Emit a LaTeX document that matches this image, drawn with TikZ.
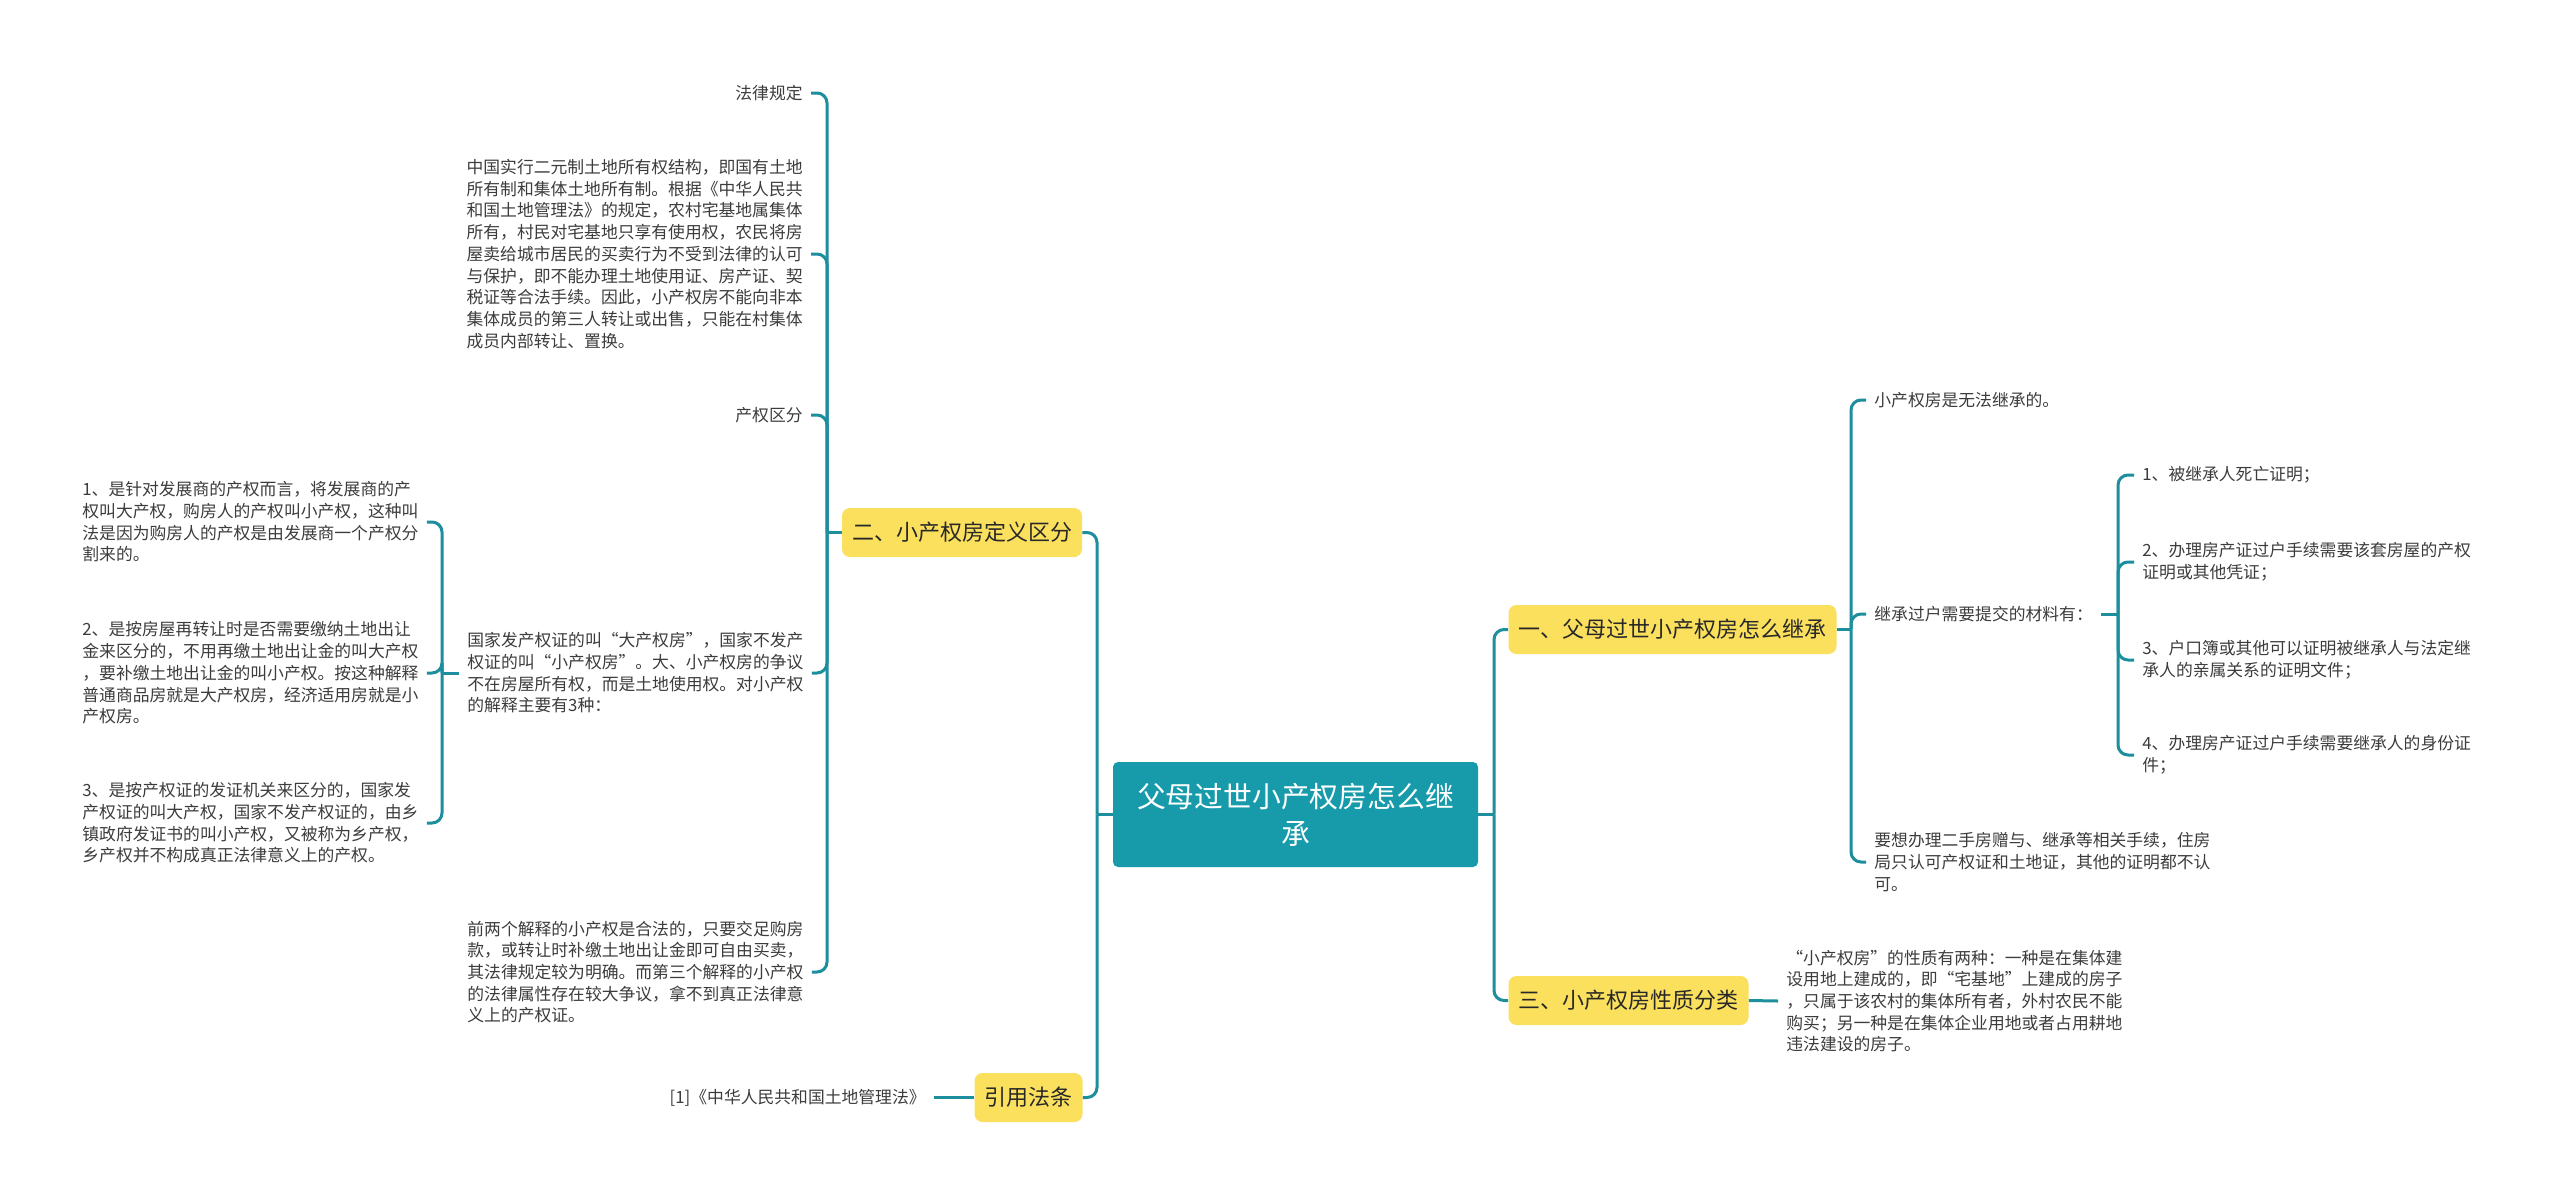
\documentclass[tikz,border=0pt]{standalone}
\usepackage{fontspec}
\setmainfont{Noto Sans CJK SC}

\begin{document}
\begin{tikzpicture}[x=0.5pt, y=-0.5pt,
    link/.style={draw=linkteal, line width=1.5pt, rounded corners=5pt},
    rootbox/.style={fill=rootteal, text=white, rounded corners=2.5pt,
        minimum width=182.5pt, minimum height=52.5pt, align=center,
        font=\fontsize{14.4}{18.5}\selectfont},
    topicbox/.style={fill=topicyellow, text=textdark, rounded corners=4pt,
        minimum height=24.5pt, inner xsep=5pt, font=\fontsize{11}{13}\selectfont},
    leaf/.style={text=textgray, inner xsep=4pt, inner ysep=0pt, align=left,
        font=\fontsize{8.4}{10.85}\selectfont}]

    % --- Definitions ---
    \definecolor{linkteal}{RGB}{28, 142, 158}
    \definecolor{rootteal}{RGB}{23, 155, 171}
    \definecolor{topicyellow}{RGB}{251, 224, 94}
    \definecolor{textdark}{RGB}{40, 40, 40}
    \definecolor{textgray}{RGB}{60, 60, 60}

    \path[use as bounding box, fill=white] (0,0) rectangle (2560,1195);

    % --- Root and topics ---
    \node[rootbox] (root) at (1295.5,814.5) {父母过世小产权房怎么继\\承};
    \node[topicbox, minimum width=162.5pt] (b1) at (1672.5,629.5) {一、父母过世小产权房怎么继承};
    \node[topicbox, minimum width=119pt] (b2) at (962,532.5) {二、小产权房定义区分};
    \node[topicbox, minimum width=118.5pt] (b3) at (1628.5,1000.5) {三、小产权房性质分类};
    \node[topicbox, minimum width=52.5pt] (b4) at (1028.5,1097.5) {引用法条};

    % --- Left side: definitions ---
    \node[leaf, anchor=east] (law) at (811,93) {法律规定};
    \node[leaf, anchor=east] (p1) at (811,254) {中国实行二元制土地所有权结构，即国有土地\\所有制和集体土地所有制。根据《中华人民共\\和国土地管理法》的规定，农村宅基地属集体\\所有，村民对宅基地只享有使用权，农民将房\\屋卖给城市居民的买卖行为不受到法律的认可\\与保护，即不能办理土地使用证、房产证、契\\税证等合法手续。因此，小产权房不能向非本\\集体成员的第三人转让或出售，只能在村集体\\成员内部转让、置换。};
    \node[leaf, anchor=east] (term) at (811,415) {产权区分};
    \node[leaf, anchor=west] (p2) at (459,673) {国家发产权证的叫“大产权房”，国家不发产\\权证的叫“小产权房”。大、小产权房的争议\\不在房屋所有权，而是土地使用权。对小产权\\的解释主要有3种：};
    \node[leaf, anchor=west] (p3) at (459,972) {前两个解释的小产权是合法的，只要交足购房\\款，或转让时补缴土地出让金即可自由买卖，\\其法律规定较为明确。而第三个解释的小产权\\的法律属性存在较大争议，拿不到真正法律意\\义上的产权证。};

    \node[leaf, anchor=west] (k1) at (74,522) {1、是针对发展商的产权而言，将发展商的产\\权叫大产权，购房人的产权叫小产权，这种叫\\法是因为购房人的产权是由发展商一个产权分\\割来的。};
    \node[leaf, anchor=west] (k2) at (74,673) {2、是按房屋再转让时是否需要缴纳土地出让\\金来区分的，不用再缴土地出让金的叫大产权\\，要补缴土地出让金的叫小产权。按这种解释\\普通商品房就是大产权房，经济适用房就是小\\产权房。};
    \node[leaf, anchor=west] (k3) at (74,823) {3、是按产权证的发证机关来区分的，国家发\\产权证的叫大产权，国家不发产权证的，由乡\\镇政府发证书的叫小产权，又被称为乡产权，\\乡产权并不构成真正法律意义上的产权。};

    \node[leaf, anchor=east] (ref) at (934,1097.5) {[1]《中华人民共和国土地管理法》};

    % --- Right side: inheritance ---
    \node[leaf, anchor=west] (r1) at (1866,400) {小产权房是无法继承的。};
    \node[leaf, anchor=west] (r2) at (1866,614) {继承过户需要提交的材料有：};
    \node[leaf, anchor=west] (r3) at (1866,862) {要想办理二手房赠与、继承等相关手续，住房\\局只认可产权证和土地证，其他的证明都不认\\可。};

    \node[leaf, anchor=west] (s1) at (2134,475) {1、被继承人死亡证明；};
    \node[leaf, anchor=west] (s2) at (2134,562) {2、办理房产证过户手续需要该套房屋的产权\\证明或其他凭证；};
    \node[leaf, anchor=west] (s3) at (2134,660) {3、户口簿或其他可以证明被继承人与法定继\\承人的亲属关系的证明文件；};
    \node[leaf, anchor=west] (s4) at (2134,755) {4、办理房产证过户手续需要继承人的身份证\\件；};

    \node[leaf, anchor=west] (t1) at (1778,1001) {“小产权房”的性质有两种：一种是在集体建\\设用地上建成的，即“宅基地”上建成的房子\\，只属于该农村的集体所有者，外村农民不能\\购买；另一种是在集体企业用地或者占用耕地\\违法建设的房子。};

    % --- Connectors ---
    \coordinate (jr) at (1494,814.5);
    \coordinate (jl) at (1097,814.5);
    \draw[link] (root.east) -- (jr);
    \draw[link] (root.west) -- (jl);
    \foreach \c in {b1,b3} \draw[link] (jr) |- (\c.west);
    \foreach \c in {b2,b4} \draw[link] (jl) |- (\c.east);

    \coordinate (j2) at (827,532.5);
    \draw[link] (b2.west) -- (j2);
    \foreach \c in {law,p1,term,p2,p3} \draw[link] (j2) |- (\c.east);

    \coordinate (jk) at (442,673);
    \draw[link] (p2.west) -- (jk);
    \foreach \c in {k1,k2,k3} \draw[link] (jk) |- (\c.east);

    \draw[link] (b4.west) -- (ref.east);

    \coordinate (j1) at (1851,629.5);
    \draw[link] (b1.east) -- (j1);
    \foreach \c in {r1,r2,r3} \draw[link] (j1) |- (\c.west);

    \coordinate (js) at (2118,614);
    \draw[link] (r2.east) -- (js);
    \foreach \c in {s1,s2,s3,s4} \draw[link] (js) |- (\c.west);

    \draw[link] (b3.east) -- (t1.west);

\end{tikzpicture}
\end{document}
